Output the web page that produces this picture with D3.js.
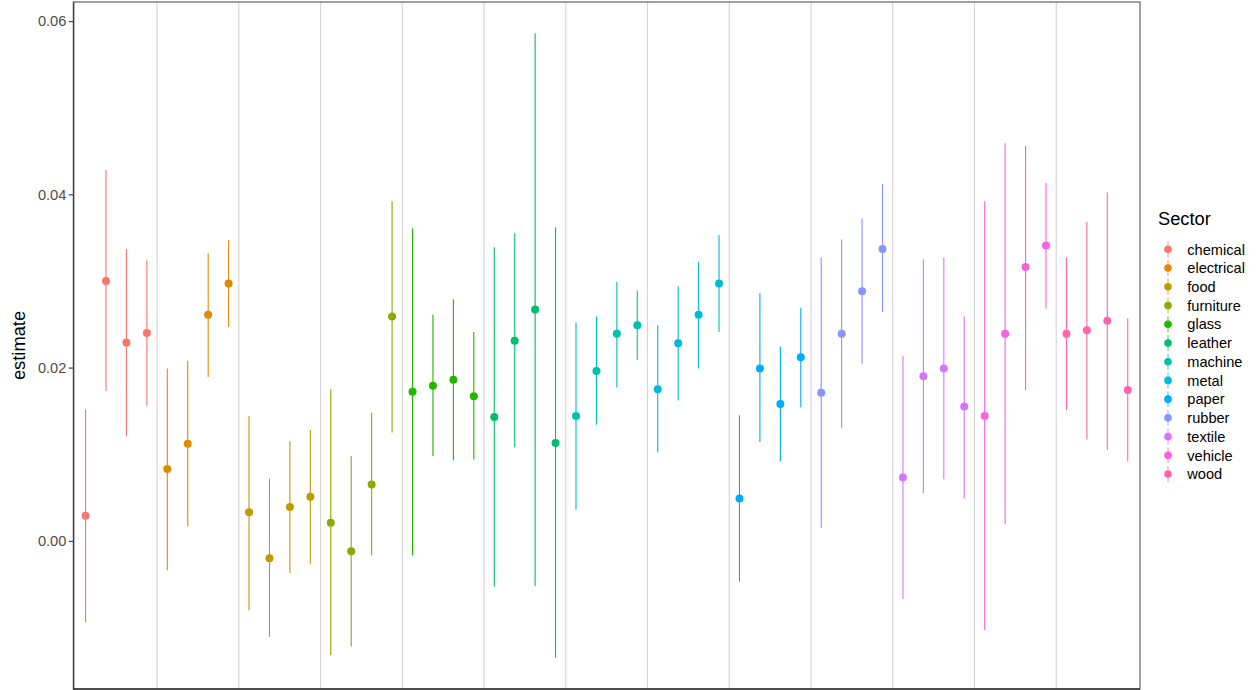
<!DOCTYPE html>
<html lang="en">
<head>
    <meta charset="UTF-8">
    <script src="https://d3js.org/d3.v7.min.js"></script>
    <style>
        body { margin: 0; background: #fff; }
        text { font-family: "Liberation Sans", Arial, sans-serif; }
    </style>
</head>
<body>
    <svg width="1257" height="690"></svg>

    <script>
        // sectors, four estimates each (in order along the x axis)
        let sectors = ["chemical", "electrical", "food", "furniture", "glass", "leather", "machine",
                       "metal", "paper", "rubber", "textile", "vehicle", "wood"];
        let colors = ["#F8766D", "#E18A00", "#BE9C00", "#8CAB00", "#24B700", "#00BE70", "#00C1AB",
                      "#00BBDA", "#00ACFC", "#8B93FF", "#D575FE", "#F962DD", "#FF65AC"];

        let estimates = [
            0.0029, 0.0300, 0.0229, 0.0240,
            0.0083, 0.0112, 0.0261, 0.0297,
            0.0033, -0.0020, 0.0039, 0.0051,
            0.0021, -0.0012, 0.0065, 0.0259,
            0.0172, 0.0179, 0.0186, 0.0167,
            0.0143, 0.0231, 0.0267, 0.0113,
            0.0144, 0.0196, 0.0239, 0.0249,
            0.0175, 0.0228, 0.0261, 0.0297,
            0.0049, 0.0199, 0.0158, 0.0212,
            0.0171, 0.0239, 0.0288, 0.0337,
            0.0073, 0.0190, 0.0199, 0.0155,
            0.0144, 0.0239, 0.0316, 0.0341,
            0.0239, 0.0243, 0.0254, 0.0174
        ];
        let lowers = [
            -0.0094, 0.0173, 0.0121, 0.0156,
            -0.0034, 0.0017, 0.0189, 0.0247,
            -0.0080, -0.0111, -0.0037, -0.0027,
            -0.0132, -0.0122, -0.0017, 0.0125,
            -0.0017, 0.0098, 0.0093, 0.0094,
            -0.0053, 0.0108, -0.0052, -0.0135,
            0.0036, 0.0134, 0.0177, 0.0209,
            0.0102, 0.0162, 0.0199, 0.0241,
            -0.0047, 0.0114, 0.0092, 0.0154,
            0.0015, 0.0130, 0.0204, 0.0264,
            -0.0067, 0.0055, 0.0071, 0.0049,
            -0.0103, 0.0019, 0.0174, 0.0268,
            0.0151, 0.0117, 0.0105, 0.0092
        ];
        let uppers = [
            0.0152, 0.0428, 0.0337, 0.0324,
            0.0199, 0.0208, 0.0332, 0.0347,
            0.0144, 0.0072, 0.0115, 0.0128,
            0.0175, 0.0098, 0.0148, 0.0392,
            0.0361, 0.0261, 0.0279, 0.0241,
            0.0339, 0.0355, 0.0586, 0.0362,
            0.0252, 0.0259, 0.0299, 0.0289,
            0.0249, 0.0294, 0.0322, 0.0353,
            0.0145, 0.0286, 0.0224, 0.0269,
            0.0327, 0.0348, 0.0372, 0.0412,
            0.0213, 0.0325, 0.0327, 0.0259,
            0.0392, 0.0459, 0.0456, 0.0413,
            0.0327, 0.0368, 0.0402, 0.0257
        ];
        let yTicks = [0.00, 0.02, 0.04, 0.06];

        let perSector = 4;
        let data = estimates.map((e, i) => ({
            idx: i,
            sector: sectors[Math.floor(i / perSector)],
            est: e, lo: lowers[i], hi: uppers[i]
        }));

        let svg = d3.select("svg");
        let panel = { left: 73.3, right: 1140, top: 2, bottom: 689 };

        // discrete x positions, ggplot-style 0.6 expansion
        let x = d3.scalePoint()
            .domain(data.map(d => d.idx))
            .range([panel.left, panel.right])
            .padding(0.6);

        // y with 5% expansion on each side
        let yMin = d3.min(lowers), yMax = d3.max(uppers);
        let pad = (yMax - yMin) * 0.05;
        let y = d3.scaleLinear()
            .domain([yMin - pad, yMax + pad])
            .range([panel.bottom, panel.top]);

        let color = d3.scaleOrdinal().domain(sectors).range(colors);

        // vertical grid lines between sector groups
        let gridPos = d3.range(1, sectors.length).map(k => x(k * perSector - 1) + x.step() / 2);
        svg.append("g").selectAll("line")
            .data(gridPos)
            .enter().append("line")
            .attr("x1", d => d).attr("x2", d => d)
            .attr("y1", panel.top).attr("y2", panel.bottom)
            .attr("stroke", "#d4d4d4")
            .attr("stroke-width", 1.1);

        // error bars and points
        let g = svg.append("g");
        g.selectAll("line.err")
            .data(data)
            .enter().append("line")
            .attr("class", "err")
            .attr("x1", d => x(d.idx)).attr("x2", d => x(d.idx))
            .attr("y1", d => y(d.lo)).attr("y2", d => y(d.hi))
            .attr("stroke", d => color(d.sector))
            .attr("stroke-width", 1.1);
        g.selectAll("circle")
            .data(data)
            .enter().append("circle")
            .attr("cx", d => x(d.idx))
            .attr("cy", d => y(d.est))
            .attr("r", 4)
            .attr("fill", d => color(d.sector));

        // panel border
        svg.append("rect")
            .attr("x", panel.left).attr("y", panel.top)
            .attr("width", panel.right - panel.left)
            .attr("height", panel.bottom - panel.top)
            .attr("fill", "none")
            .attr("stroke", "#555")
            .attr("stroke-width", 1.1);
        svg.append("line")
            .attr("x1", panel.left).attr("x2", panel.right)
            .attr("y1", panel.bottom).attr("y2", panel.bottom)
            .attr("stroke", "#333").attr("stroke-width", 1.4);

        // y axis
        let yAxis = svg.append("g")
            .attr("transform", "translate(" + panel.left + ",0)")
            .call(d3.axisLeft(y).tickValues(yTicks).tickFormat(d3.format(".2f"))
                .tickSizeInner(4.5).tickSizeOuter(0).tickPadding(2.5));
        yAxis.select(".domain").attr("stroke", "#333").attr("stroke-width", 1.1);
        yAxis.selectAll(".tick line").attr("stroke", "#333").attr("stroke-width", 1.1);
        yAxis.selectAll(".tick text")
            .attr("fill", "#4D4D4D")
            .style("font-size", "14.6px")
            .style("font-family", "'Liberation Sans', Arial, sans-serif");

        svg.append("text")
            .attr("transform", "translate(25," + ((panel.top + panel.bottom) / 2) + ") rotate(-90)")
            .attr("text-anchor", "middle")
            .style("font-size", "18.3px")
            .attr("fill", "#000")
            .text("estimate");

        // legend
        let legend = svg.append("g").attr("transform", "translate(1158,0)");
        legend.append("text")
            .attr("x", 0).attr("y", 225)
            .style("font-size", "18.3px")
            .text("Sector");
        let items = legend.selectAll("g.item")
            .data(sectors)
            .enter().append("g")
            .attr("class", "item")
            .attr("transform", (d, i) => "translate(0," + (249.3 + i * 18.73) + ")");
        items.append("line")
            .attr("x1", 10).attr("x2", 10)
            .attr("y1", -8).attr("y2", 8)
            .attr("stroke", d => color(d))
            .attr("stroke-opacity", 0.7)
            .attr("stroke-width", 1.1);
        items.append("circle")
            .attr("cx", 10).attr("cy", 0)
            .attr("r", 3.8)
            .attr("fill", d => color(d));
        items.append("text")
            .attr("x", 29.3).attr("y", 5.2)
            .style("font-size", "14.6px")
            .attr("fill", "#000")
            .text(d => d);
    </script>
</body>
</html>
